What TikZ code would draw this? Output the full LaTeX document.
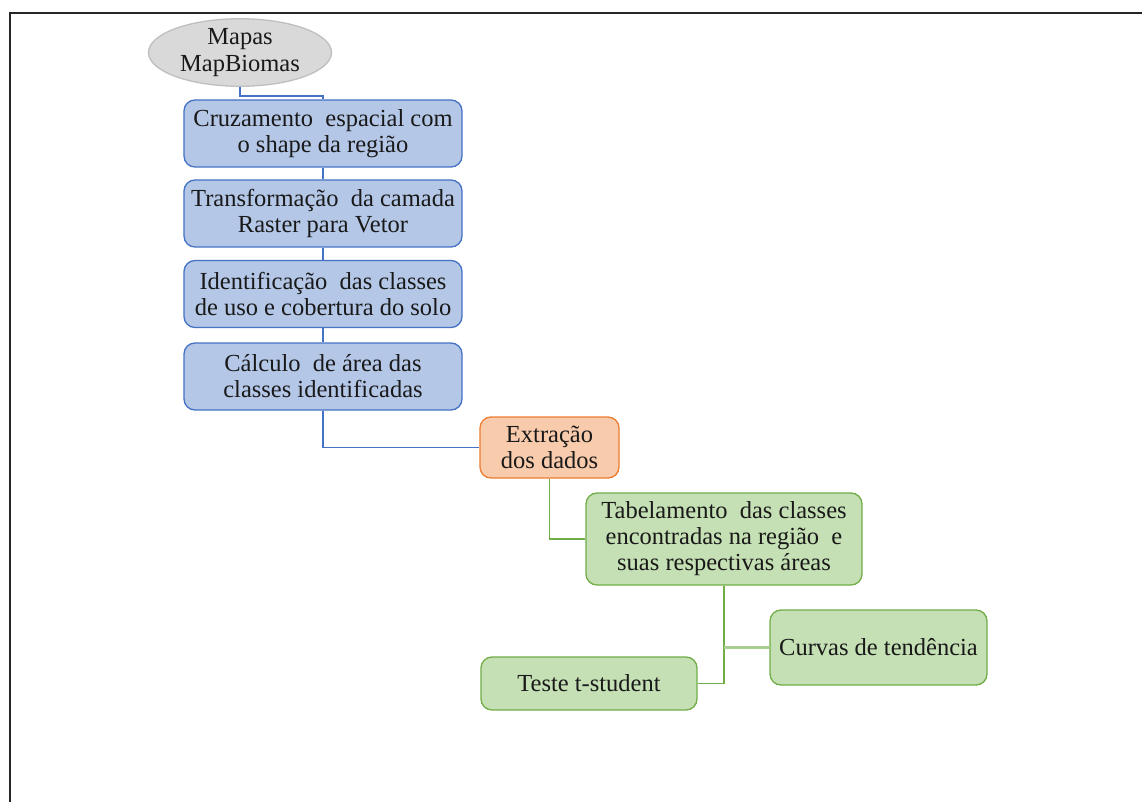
\documentclass[tikz,border=0pt]{standalone}
\usepackage{fontspec}
\setmainfont{Liberation Serif}
\usetikzlibrary{shapes.geometric}
\definecolor{bfill}{HTML}{B4C7E7}
\definecolor{bline}{HTML}{4472C4}
\definecolor{ofill}{HTML}{F8CBAD}
\definecolor{oline}{HTML}{ED7D31}
\definecolor{gfill}{HTML}{C5E0B4}
\definecolor{gline}{HTML}{70AD47}
\definecolor{efill}{HTML}{D9D9D9}
\definecolor{eline}{HTML}{BFBFBF}
\tikzset{
  basebox/.style={rectangle, rounded corners=11pt, line width=1.3pt, align=center, inner sep=0pt,
    font=\fontsize{24.5}{26}\selectfont, text=black!90},
  bluebox/.style={basebox, draw=bline, fill=bfill, minimum width=278, minimum height=67},
  orangebox/.style={basebox, draw=oline, fill=ofill},
  greenbox/.style={basebox, draw=gline, fill=gfill},
  grayell/.style={ellipse, draw=eline, fill=efill, line width=1.3pt, inner sep=0pt, align=center,
    font=\fontsize{24.5}{26.5}\selectfont, text=black!90},
  blink/.style={draw=bline, line width=1.3pt},
  glink/.style={draw=gline, line width=1.3pt},
}
\begin{document}
\begin{tikzpicture}[x=1pt,y=-1pt]
\useasboundingbox (0,0) rectangle (1142,802);
\fill[white] (0,0) rectangle (1142,802);
\draw[line width=2.5pt, black!85] (1142,13) -- (10,13) -- (10,802);

\node[grayell, minimum width=183, minimum height=55] (e) at (240,52.5) {Mapas\\MapBiomas};
\node[bluebox] (b1) at (323,133.5) {Cruzamento\ \ espacial com\\o shape da região};
\node[bluebox] (b2) at (323,213.5) {Transformação\ \ da camada\\Raster para Vetor};
\node[bluebox] (b3) at (323,294) {Identificação\ \ das classes\\de uso e cobertura do solo};
\node[bluebox] (b4) at (323,376.5) {Cálculo\ \ de área das\\classes identificadas};
\node[orangebox, minimum width=139, minimum height=61] (ex) at (549.5,447.5) {Extração\\dos dados};
\node[greenbox, minimum width=276, minimum height=92] (tab) at (724,539) {Tabelamento\ \ das classes\\encontradas na região\ \ e\\suas respectivas áreas};
\node[greenbox, minimum width=217, minimum height=75] (cur) at (878.5,647.5) {Curvas de tendência};
\node[greenbox, minimum width=216, minimum height=53] (tes) at (589,683.5) {Teste t-student};

\draw[blink] (e.south) -- ++(0,9) -| (b1.north);
\draw[blink] (b1.south) -- (b2.north);
\draw[blink] (b2.south) -- (b3.north);
\draw[blink] (b3.south) -- (b4.north);
\draw[blink] (b4.south) |- (ex.west);
\draw[glink] (ex.south) |- (tab.west);
\draw[glink] (tab.south) |- (tes.east);
\draw[glink, line width=2.2pt, draw=gline!60] (tab.south |- cur.west) -- (cur.west);
\end{tikzpicture}
\end{document}
